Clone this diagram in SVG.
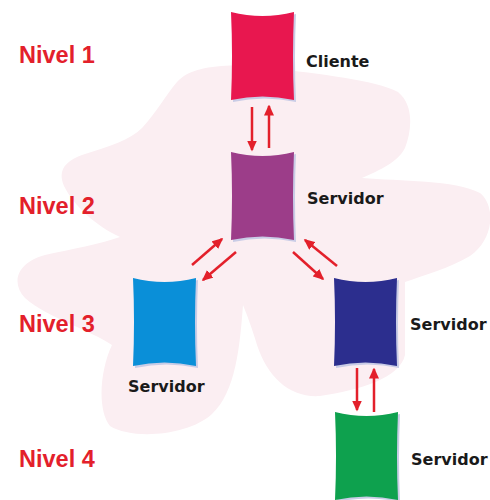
<svg xmlns="http://www.w3.org/2000/svg" xmlns:xlink="http://www.w3.org/1999/xlink" width="490" height="500" viewBox="0 0 490 500">
  <style>
    .lvl { font-family: "Liberation Sans", Arial, sans-serif; font-weight: bold; font-size: 23.5px; fill: #E3202B; }
    .lbl { font-family: "DejaVu Sans", Verdana, sans-serif; font-weight: bold; font-size: 16px; fill: #1A1A1A; }
    .arr { stroke: #E3202B; stroke-width: 2.5; fill: none; marker-end: url(#ah); }
    .shadow { fill: #C9CCE6; }
  </style>
  <defs>
    <marker id="ah" markerUnits="userSpaceOnUse" markerWidth="11" markerHeight="10" refX="9.5" refY="5" orient="auto">
      <path d="M0,0 L11,5 L0,10 Z" fill="#E3202B"/>
    </marker>
    <path id="box" d="M0,0 Q31.5,8 63,0 Q61,44 63,88 Q31.5,81 0,88 Q2,44 0,0 Z"/>
  </defs>
  <rect width="490" height="500" fill="#FFFFFF"/>
  <path id="cloud" fill="#FBEEF2" d="M177,82 C192,64 235,63 270,68 C320,74 375,80 398,92 C414,105 412,130 405,148 C398,162 380,170 362,178 C400,181 455,180 480,193 C496,206 494,240 470,256 C450,268 422,276 405,282 L405,355 C400,378 360,390 320,396 C290,398 268,378 257,345 C252,328 247,315 243,305 C240,345 236,392 212,414 C188,436 132,440 110,426 C97,410 100,370 112,345 C90,330 48,318 25,298 C10,282 18,262 45,255 C72,249 100,244 120,237 C96,226 74,206 64,186 C57,170 66,161 82,155 C110,146 130,140 142,128 C156,113 166,95 177,82 Z"/>
  <g id="connectors">
    <line class="arr" x1="252" y1="107" x2="252" y2="150"/>
    <line class="arr" x1="269" y1="148" x2="269" y2="106"/>
    <line class="arr" x1="192" y1="265" x2="222" y2="239"/>
    <line class="arr" x1="236" y1="252" x2="203" y2="280"/>
    <line class="arr" x1="293" y1="252" x2="323" y2="279"/>
    <line class="arr" x1="337" y1="266" x2="305" y2="240"/>
    <line class="arr" x1="357" y1="368" x2="357" y2="410"/>
    <line class="arr" x1="374" y1="412" x2="374" y2="369"/>
  </g>
  <g id="node-cliente">
    <use xlink:href="#box" class="shadow" transform="translate(233,14)"/>
    <use xlink:href="#box" fill="#E8174F" transform="translate(231,12)"/>
    <text class="lbl" x="306" y="67">Cliente</text>
  </g>
  <g id="node-servidor-2">
    <use xlink:href="#box" class="shadow" transform="translate(233,154)"/>
    <use xlink:href="#box" fill="#9C3D89" transform="translate(231,152)"/>
    <text class="lbl" x="307" y="204">Servidor</text>
  </g>
  <g id="node-servidor-3a">
    <use xlink:href="#box" class="shadow" transform="translate(135,280)"/>
    <use xlink:href="#box" fill="#0A8FD8" transform="translate(133,278)"/>
    <text class="lbl" x="128" y="392">Servidor</text>
  </g>
  <g id="node-servidor-3b">
    <use xlink:href="#box" class="shadow" transform="translate(336,280)"/>
    <use xlink:href="#box" fill="#2C2E8E" transform="translate(334,278)"/>
    <text class="lbl" x="410" y="330">Servidor</text>
  </g>
  <g id="node-servidor-4">
    <use xlink:href="#box" class="shadow" transform="translate(337,414)"/>
    <use xlink:href="#box" fill="#0EA14E" transform="translate(335,412)"/>
    <text class="lbl" x="411" y="465">Servidor</text>
  </g>
  <g id="levels">
    <text class="lvl" x="19" y="63">Nivel 1</text>
    <text class="lvl" x="19" y="214">Nivel 2</text>
    <text class="lvl" x="19" y="332">Nivel 3</text>
    <text class="lvl" x="19" y="467">Nivel 4</text>
  </g>
</svg>
